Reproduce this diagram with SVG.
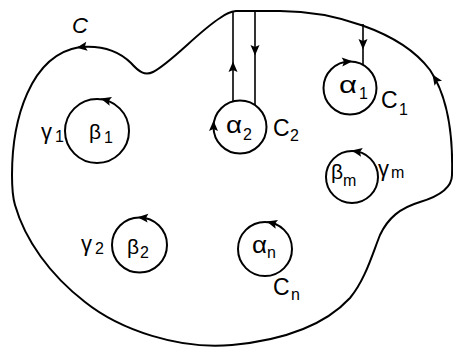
<svg xmlns="http://www.w3.org/2000/svg" width="453" height="347" viewBox="0 0 453 347">
<style>
.ln{fill:none;stroke:#000;stroke-width:2}
.sl{fill:none;stroke:#000;stroke-width:1.6}
.ring{fill:none;stroke:#000;stroke-width:2}
text{font-family:"Liberation Sans",Arial,sans-serif;fill:#000}
.g{font-size:21px}
.y{font-size:22px}
.a{font-size:23px}
.c{font-size:23px}
.s{font-size:16px}
</style>
<defs>
<path id="ah" d="M5.5,0 L-5,-4.5 L-3,0 L-5,4.5 Z" fill="#000"/>
</defs>
<rect width="453" height="347" fill="#fff"/>
<g id="connectors">
<path class="ln" d="M236,11 L280,11 C330,11 400,30 430,70 C450,100 453,140 452,175 C452,188 440,196 420,202 C400,208 388,218 380,235 C372,255 365,280 350,298 C325,325 285,340 232,345 C180,350 120,330 85,302 C50,275 25,240 15,205 C12,195 12,185 12,175 C12,120 30,55 80,47 C103,45 120,52 131,63 C139,72 145,76 153,72 C172,62 198,32 220,18 Q228,12 236,11 Z"/>
<line class="sl" x1="233" y1="11" x2="233" y2="101"/>
<line class="sl" x1="255" y1="11" x2="255" y2="105"/>
<line class="sl" x1="363" y1="24" x2="363" y2="65"/>
<use href="#ah" transform="translate(82,47) rotate(171)"/>
<use href="#ah" transform="translate(435.5,79) rotate(-124)"/>
<use href="#ah" transform="translate(233,67) rotate(-90)"/>
<use href="#ah" transform="translate(255,50) rotate(90)"/>
<use href="#ah" transform="translate(363,44) rotate(90)"/>
</g>
<text id="label-C" x="72" y="33" font-size="22" font-style="italic">C</text>
<g id="beta1">
<circle class="ring" cx="97" cy="131" r="32"/>
<use href="#ah" transform="translate(106,100) rotate(-165)"/>
<text class="g" x="89" y="139">β</text>
<text class="s" x="104" y="143">1</text>
<text class="y" x="41" y="139">γ</text>
<text class="s" x="55" y="142">1</text>
</g>
<g id="beta2">
<circle class="ring" cx="139.5" cy="245" r="27.5"/>
<use href="#ah" transform="translate(143,217.7) rotate(-175)"/>
<text class="g" x="127" y="254">β</text>
<text class="s" x="140" y="258">2</text>
<text class="y" x="81" y="251">γ</text>
<text class="s" x="95" y="254">2</text>
</g>
<g id="alpha2">
<circle class="ring" cx="240" cy="127" r="26.5"/>
<use href="#ah" transform="translate(213.5,126) rotate(-90)"/>
<text class="a" x="226" y="133" textLength="16" lengthAdjust="spacingAndGlyphs">α</text>
<text class="s" x="243" y="140">2</text>
<text class="c" x="273" y="136">C</text>
<text class="s" x="290" y="141">2</text>
</g>
<g id="alpha1">
<circle class="ring" cx="350" cy="88" r="26.5"/>
<use href="#ah" transform="translate(347,61.6) rotate(-4)"/>
<text class="a" x="339" y="93" textLength="18" lengthAdjust="spacingAndGlyphs">α</text>
<text class="s" x="359" y="99">1</text>
<text class="c" x="381" y="108">C</text>
<text class="s" x="399" y="115">1</text>
</g>
<g id="betam">
<circle class="ring" cx="352" cy="177" r="26"/>
<use href="#ah" transform="translate(357,151.5) rotate(-169)"/>
<text class="g" x="331" y="179">β</text>
<text class="s" x="343" y="186">m</text>
<text class="y" x="378" y="176">γ</text>
<text class="s" x="391" y="178">m</text>
</g>
<g id="alphan">
<circle class="ring" cx="265" cy="249" r="27"/>
<use href="#ah" transform="translate(272,223) rotate(-165)"/>
<text class="a" x="252" y="253" textLength="15" lengthAdjust="spacingAndGlyphs">α</text>
<text class="s" x="267" y="258">n</text>
<text class="c" x="273" y="295">C</text>
<text class="s" x="291" y="300">n</text>
</g>
</svg>
